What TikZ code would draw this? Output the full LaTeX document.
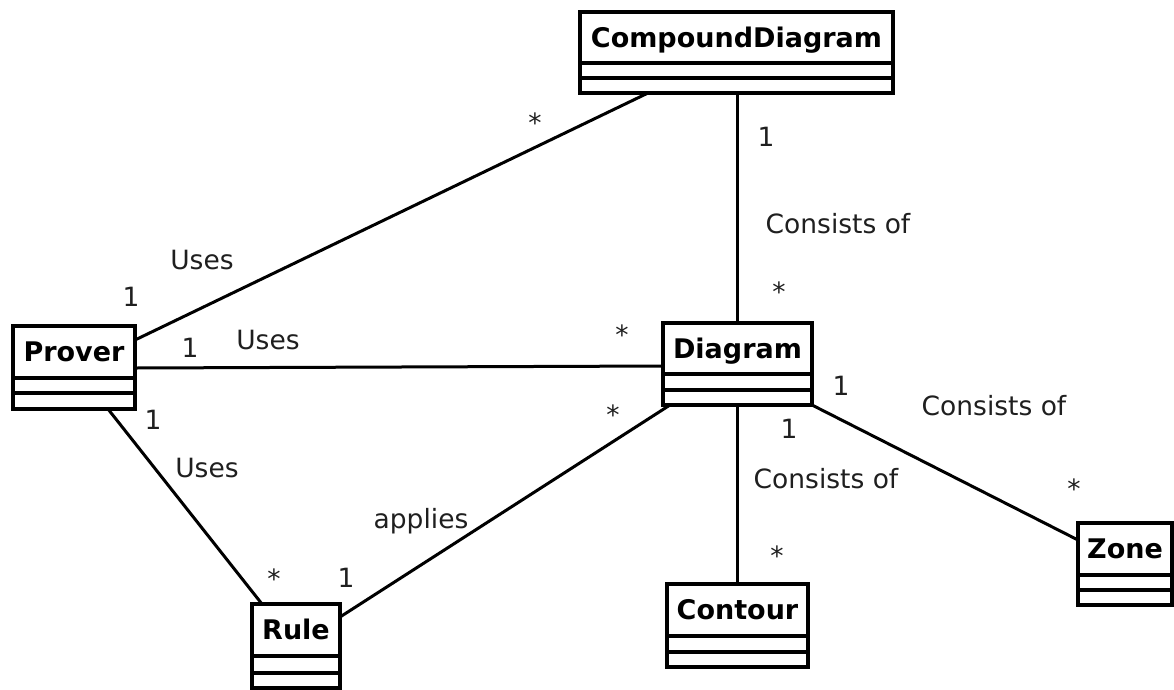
\documentclass[tikz,border=0pt]{standalone}
\usepackage{fontspec}
\setmainfont{DejaVu Sans}
\usetikzlibrary{fit}
\tikzset{
  classbox/.style={draw=black, line width=3.4pt, inner sep=0pt, fill=white},
  divider/.style={draw=black, line width=3.4pt},
  classname/.style={font=\fontsize{27}{31}\selectfont\bfseries, text=black,
    text height=19.7pt, text depth=0pt, inner sep=0pt},
  assoc/.style={draw=black, line width=3pt},
  lbl/.style={font=\fontsize{26.5}{30}\selectfont, text=black!88,
    text height=19.3pt, text depth=0pt, inner sep=0pt},
}
% #1 node name, #2 left, #3 top, #4 right, #5 bottom,
% #6 first divider, #7 second divider, #8 class title
\newcommand\umlclass[8]{%
  \node[classbox, fit={(#2,#3) (#4,#5)}] (#1) {};
  \node[classname] (#1-title) at ({(#2+#4)/2},{(#3+#6)/2}) {#8};
  \draw[divider] (#2,#6) -- (#4,#6) (#2,#7) -- (#4,#7);
}
\begin{document}
\begin{tikzpicture}[x=1pt, y=-1pt]
  \useasboundingbox (0,0) rectangle (1174,689);

  % associations
  \draw[assoc] (135,340) coordinate (pcd) -- (648,93) coordinate (cdp);
  \draw[assoc] (135,368) coordinate (pd) -- (663,366) coordinate (dp);
  \draw[assoc] (737,93) coordinate (cdd) -- (737,323) coordinate (dcd);
  \draw[assoc] (108,409) coordinate (pr) -- (262,604) coordinate (rp);
  \draw[assoc] (340,617) coordinate (rd) -- (670,405) coordinate (dr);
  \draw[assoc] (737,405) coordinate (dc) -- (737,584) coordinate (cd);
  \draw[assoc] (812,405) coordinate (dz) -- (1078,540) coordinate (zd);

  % classes
  \umlclass{compound}{580}{12}{893}{93}{63}{78}{CompoundDiagram}
  \umlclass{prover}{13}{326}{135}{409}{378}{393}{Prover}
  \umlclass{diagram}{663}{323}{812}{405}{374}{390}{Diagram}
  \umlclass{rule}{252}{604}{340}{688}{656}{673}{Rule}
  \umlclass{contour}{667}{584}{808}{667}{636}{652}{Contour}
  \umlclass{zone}{1078}{523}{1172}{605}{575}{590}{Zone}

  % role names and multiplicities
  \node[lbl] (m1) at (535,123) {*};
  \node[lbl] (m2) at (766,137) {1};
  \node[lbl] (l1) at (838,224) {Consists of};
  \node[lbl] (m3) at (779,292) {*};
  \node[lbl] (l2) at (202,260) {Uses};
  \node[lbl] (m4) at (131,297) {1};
  \node[lbl] (m5) at (190,348) {1};
  \node[lbl] (l3) at (268,340) {Uses};
  \node[lbl] (m6) at (622,335) {*};
  \node[lbl] (m7) at (841,386) {1};
  \node[lbl] (l4) at (994,406) {Consists of};
  \node[lbl] (m8) at (789,429) {1};
  \node[lbl] (m9) at (153,420) {1};
  \node[lbl] (l5) at (207,468) {Uses};
  \node[lbl] (m10) at (613,415) {*};
  \node[lbl] (l6) at (421,519) {applies};
  \node[lbl] (m11) at (274,579) {*};
  \node[lbl] (m12) at (346,578) {1};
  \node[lbl] (l7) at (826,479) {Consists of};
  \node[lbl] (m13) at (777,556) {*};
  \node[lbl] (m14) at (1074,489) {*};
\end{tikzpicture}
\end{document}
